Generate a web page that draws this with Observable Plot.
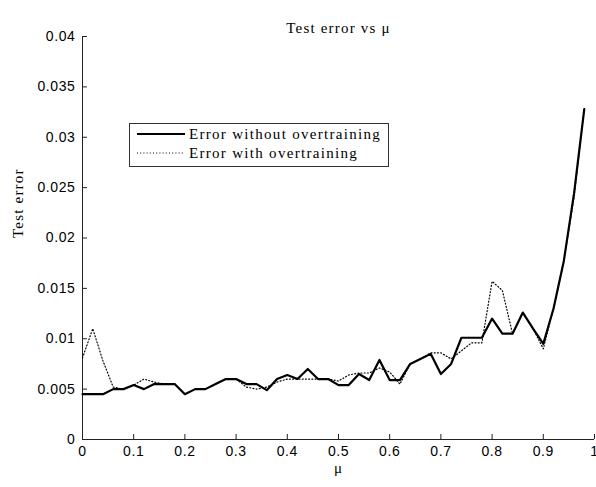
<!DOCTYPE html>
<html>
<head>
<meta charset="utf-8">
<script src="https://cdn.jsdelivr.net/npm/d3@7"></script>
<script src="https://cdn.jsdelivr.net/npm/@observablehq/plot@0.6"></script>
<style>
  html, body { margin: 0; padding: 0; background: #fff; }
</style>
</head>
<body>
<div id="chart"></div>
<script>
const mu = [0,0.02,0.04,0.06,0.08,0.10,0.12,0.14,0.16,0.18,0.20,0.22,0.24,0.26,0.28,0.30,0.32,0.34,0.36,0.38,0.40,0.42,0.44,0.46,0.48,0.50,0.52,0.54,0.56,0.58,0.60,0.62,0.64,0.66,0.68,0.70,0.72,0.74,0.76,0.78,0.80,0.82,0.84,0.86,0.88,0.90,0.92,0.94,0.96,0.98];
const errWithout = [0.0045,0.0045,0.0045,0.0050,0.0050,0.0054,0.0050,0.0055,0.0055,0.0055,0.0045,0.0050,0.0050,0.0055,0.0060,0.0060,0.0055,0.0055,0.0049,0.0060,0.0064,0.0060,0.0070,0.0060,0.0060,0.0054,0.0054,0.0065,0.0059,0.0079,0.0059,0.0059,0.0075,0.0080,0.0085,0.0065,0.0075,0.0101,0.0101,0.0101,0.0120,0.0105,0.0105,0.0126,0.0110,0.0095,0.0130,0.0177,0.0244,0.0328];
const errWith = [0.0081,0.0110,0.0078,0.0052,0.0050,0.0054,0.0060,0.0057,0.0055,0.0055,0.0045,0.0050,0.0050,0.0055,0.0060,0.0060,0.0052,0.0050,0.0052,0.0057,0.0060,0.0060,0.0060,0.0060,0.0060,0.0058,0.0064,0.0066,0.0066,0.0071,0.0067,0.0055,0.0075,0.0080,0.0086,0.0086,0.0080,0.0088,0.0096,0.0096,0.0157,0.0148,0.0105,0.0126,0.0110,0.0090,0.0130,0.0177,0.0240,0.0328];
const xTicks = [0,0.1,0.2,0.3,0.4,0.5,0.6,0.7,0.8,0.9,1];
const yTicks = [0,0.005,0.01,0.015,0.02,0.025,0.03,0.035,0.04];
const seriesNames = ["Error without overtraining", "Error with overtraining"];
const titleText = "Test error vs \u03bc";
const xLabel = "\u03bc";
const yLabel = "Test error";

const rowsA = mu.map((m, i) => ({mu: m, err: errWithout[i]}));
const rowsB = mu.map((m, i) => ({mu: m, err: errWith[i]}));
const fmt = d => String(+d.toFixed(3));
const serif = "'Liberation Serif', 'Times New Roman', serif";
const axisColor = "#222";

const plot = Plot.plot({
  width: 596,
  height: 487,
  marginLeft: 82,
  marginRight: 2,
  marginTop: 36,
  marginBottom: 48,
  style: {fontFamily: "'Liberation Sans', Arial, sans-serif", fontSize: "14px", background: "#fff", color: "#000", letterSpacing: "0.6px"},
  x: {domain: [0, 1]},
  y: {domain: [0, 0.04]},
  marks: [
    Plot.ruleX([0], {stroke: axisColor, strokeWidth: 1}),
    Plot.ruleY([0], {stroke: axisColor, strokeWidth: 1}),
    Plot.tickX(xTicks, {x: d => d, insetTop: 398, stroke: axisColor}),
    Plot.tickY(yTicks, {y: d => d, insetRight: 507, stroke: axisColor}),
    Plot.axisX({ticks: xTicks, tickSize: 0, tickPadding: 7, tickFormat: fmt, label: null, fontSize: 14}),
    Plot.axisY({ticks: yTicks, tickSize: 0, tickPadding: 7, tickFormat: fmt, label: null, fontSize: 14}),
    Plot.line(rowsB, {x: "mu", y: "err", stroke: "#000", strokeWidth: 1.2, strokeDasharray: "1,2.2"}),
    Plot.line(rowsA, {x: "mu", y: "err", stroke: "#000", strokeWidth: 2.2}),
    Plot.text([titleText], {text: d => d, frameAnchor: "top", dy: -14, fontFamily: serif, fontSize: 15, fill: "#000"}),
    Plot.text([xLabel], {text: d => d, frameAnchor: "bottom", dy: 33, fontFamily: serif, fontSize: 15, fill: "#000"}),
    Plot.text([yLabel], {text: d => d, frameAnchor: "left", dx: -64, rotate: -90, fontFamily: serif, fontSize: 15, fill: "#000"})
  ]
});

const svg = d3.select(plot);
svg.selectAll("g[aria-label='text'] text").attr("letter-spacing", "1.2px");

// legend inside the plot
const lg = svg.append("g").attr("font-family", serif).attr("font-size", 15).attr("text-anchor", "start").attr("letter-spacing", "1.3px");
lg.append("rect").attr("x", 129.5).attr("y", 123.5).attr("width", 259).attr("height", 43)
  .attr("fill", "#fff").attr("stroke", "#333").attr("stroke-width", 1);
const styles = [{w: 2.2, dash: null}, {w: 1.2, dash: "1,2.2"}];
seriesNames.forEach((name, i) => {
  const yy = 134 + i * 19;
  const ln = lg.append("line").attr("x1", 137).attr("x2", 185).attr("y1", yy).attr("y2", yy)
    .attr("stroke", "#000").attr("stroke-width", styles[i].w);
  if (styles[i].dash) ln.attr("stroke-dasharray", styles[i].dash);
  lg.append("text").attr("x", 189).attr("y", yy).attr("dy", "0.35em").attr("fill", "#000").text(name);
});

document.getElementById("chart").appendChild(plot);
</script>
</body>
</html>
